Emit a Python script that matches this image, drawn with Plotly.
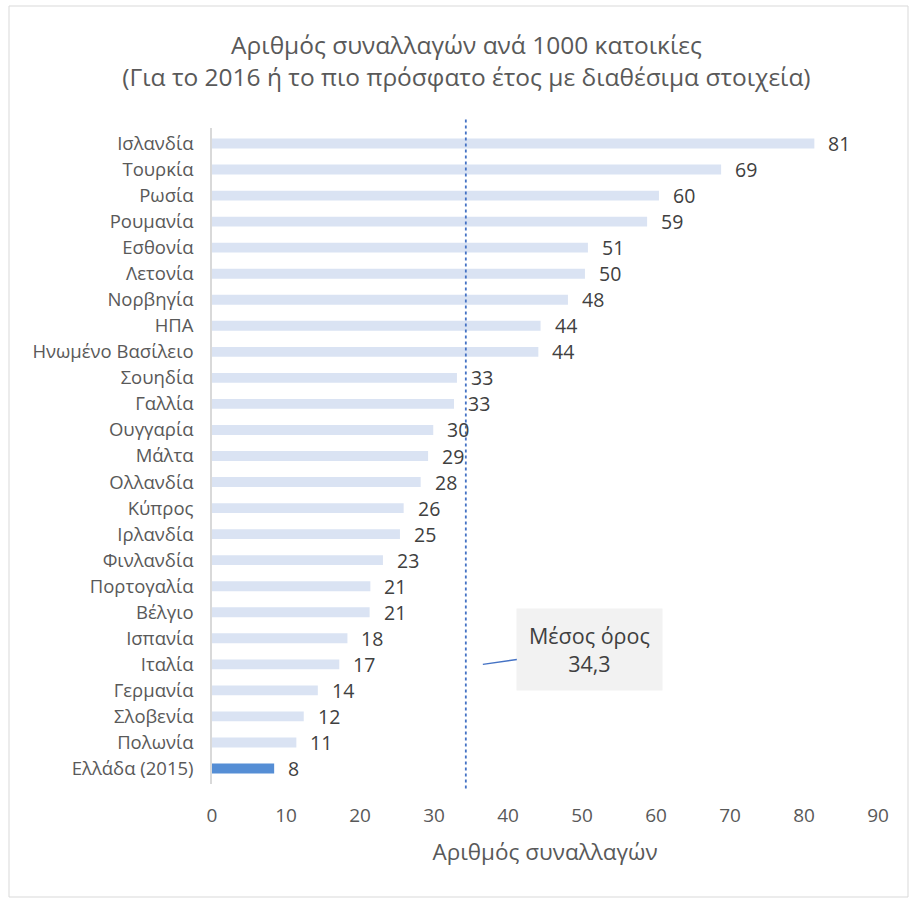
import plotly.graph_objects as go

countries = ["Ισλανδία", "Τουρκία", "Ρωσία", "Ρουμανία", "Εσθονία", "Λετονία", "Νορβηγία",
             "ΗΠΑ", "Ηνωμένο Βασίλειο", "Σουηδία", "Γαλλία", "Ουγγαρία", "Μάλτα", "Ολλανδία",
             "Κύπρος", "Ιρλανδία", "Φινλανδία", "Πορτογαλία", "Βέλγιο", "Ισπανία", "Ιταλία",
             "Γερμανία", "Σλοβενία", "Πολωνία", "Ελλάδα (2015)"]
values = [81.4, 68.8, 60.4, 58.8, 50.8, 50.4, 48.1, 44.4, 44.1, 33.1, 32.7, 29.9, 29.2, 28.2,
          25.9, 25.4, 23.1, 21.4, 21.3, 18.3, 17.2, 14.3, 12.4, 11.4, 8.4]
mean_value = 34.3
mean_label = "Μέσος όρος<br>34,3"
x_ticks = [0, 10, 20, 30, 40, 50, 60, 70, 80, 90]

FONT = "Open Sans"
W, H = 920, 899
L, R, T, B = 212, 42, 128, 115

colors = ["#DAE3F3"] * (len(countries) - 1) + ["#558ED5"]

fig = go.Figure()
fig.add_trace(go.Bar(
    x=values, y=countries, orientation="h",
    marker=dict(color=colors, line=dict(width=0)),
    hoverinfo="x+y",
))

# data labels
for c, v in zip(countries, values):
    fig.add_annotation(x=v, y=c, xref="x", yref="y", text=str(round(v)),
                       showarrow=False, xanchor="left", xshift=12,
                       font=dict(family=FONT, size=19.5, color="#404040"))

# mean line
fig.add_shape(type="line", xref="x", yref="paper", x0=mean_value, x1=mean_value,
              y0=-0.007, y1=1.015, line=dict(color="#4472C4", width=1.8, dash="dot"))

# mean callout
fig.add_annotation(x=36.6, y="Ιταλία", xref="x", yref="y", text=mean_label,
                   showarrow=True, arrowhead=0, arrowwidth=1.4, arrowcolor="#4472C4",
                   ax=107, ay=-15, bgcolor="#F2F2F2", borderpad=12,
                   font=dict(family=FONT, size=21.5, color="#404040"))

# outer chart border
pw, ph = W - L - R, H - T - B
fig.add_shape(type="rect", xref="paper", yref="paper",
              x0=(9 - L) / pw, x1=(908 - L) / pw,
              y0=1 - (897 - T) / ph, y1=1 + (T - 6) / ph,
              line=dict(color="#D9D9D9", width=1), layer="below")

fig.update_layout(
    width=W, height=H,
    margin=dict(l=L, r=R, t=T, b=B),
    paper_bgcolor="white", plot_bgcolor="white",
    title=dict(text="Αριθμός συναλλαγών ανά 1000 κατοικίες<br>(Για το 2016 ή το πιο πρόσφατο έτος με διαθέσιμα στοιχεία)",
               x=0.507, xanchor="center", y=1 - 54 / H, yanchor="top",
               font=dict(family=FONT, size=24.5, color="#595959")),
    bargap=0.62,
    showlegend=False,
    font=dict(family=FONT, color="#595959"),
)
fig.update_xaxes(range=[0, 90], tickvals=x_ticks, showgrid=False, zeroline=False,
                 showline=False, ticks="", ticklabelstandoff=18,
                 tickfont=dict(family=FONT, size=19, color="#595959"),
                 title=dict(text="Αριθμός συναλλαγών", font=dict(family=FONT, size=22.5, color="#595959"),
                            standoff=17))
fig.update_yaxes(autorange="reversed", showgrid=False, zeroline=False,
                 showline=True, linecolor="#D9D9D9", linewidth=1.5, ticks="",
                 ticklabelstandoff=13,
                 tickfont=dict(family=FONT, size=18.5, color="#595959"))

fig.write_html("out.html", config={"displayModeBar": False},
               post_script="document.body.style.margin='0';")
